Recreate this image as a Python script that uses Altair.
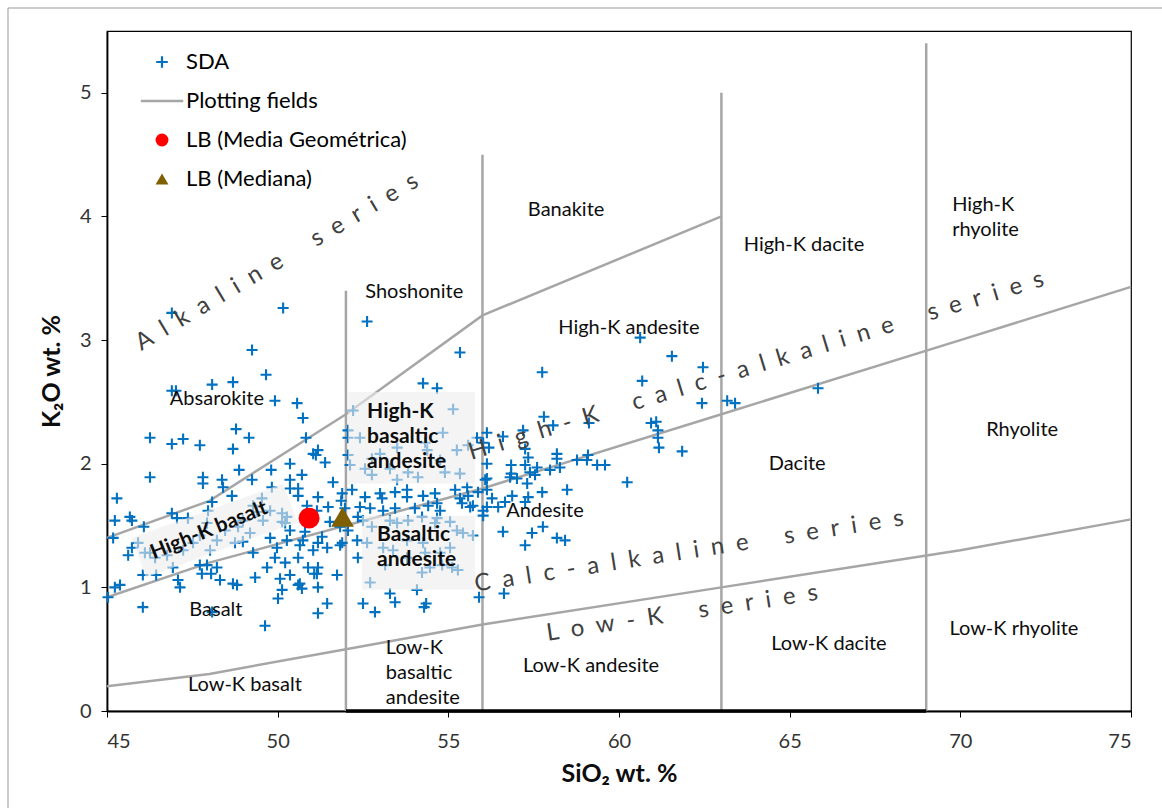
import altair as alt
import pandas as pd

# ---------------------------------------------------------------------------
# SDA samples: (SiO2 wt.%, K2O wt.%)
# ---------------------------------------------------------------------------
sda_basalt = [
    (46.90, 3.22), (50.16, 3.26), (49.25, 2.92), (49.66, 2.72), (48.08, 2.64), (48.69, 2.66),
    (46.90, 2.59), (47.02, 2.59), (49.92, 2.51), (50.57, 2.49), (50.74, 2.37), (48.78, 2.28),
    (46.26, 2.21), (46.90, 2.16), (47.23, 2.20), (47.72, 2.15), (49.16, 2.21), (48.69, 2.12),
    (50.83, 2.21), (51.18, 2.11), (51.12, 2.07), (52.06, 2.27), (52.06, 2.21), (52.21, 2.43),
    (50.36, 2.00), (49.81, 1.95), (48.87, 1.95), (46.26, 1.89), (47.81, 1.89), (48.37, 1.87),
    (47.81, 1.84), (48.40, 1.81), (49.25, 1.87), (50.36, 1.87), (50.71, 1.91), (51.39, 2.01),
    (51.04, 2.08), (50.36, 1.80), (50.60, 1.80), (50.60, 1.74), (48.66, 1.74), (48.08, 1.69),
    (45.29, 1.72), (46.90, 1.60), (45.67, 1.57), (45.23, 1.54), (46.08, 1.49), (51.18, 1.73),
    (51.62, 1.85), (51.89, 1.76), (51.48, 1.65), (51.86, 1.70), (50.80, 1.45), (50.36, 1.46),
    (50.27, 1.38), (51.89, 1.36), (51.30, 1.41), (51.18, 1.36), (49.28, 1.66), (49.78, 1.62),
    (50.86, 1.66), (51.15, 1.62), (45.73, 1.54), (47.05, 1.56), (48.98, 1.54), (50.27, 1.57),
    (50.13, 1.53), (51.83, 1.49), (51.53, 1.53), (50.74, 1.38), (49.78, 1.40), (48.98, 1.37),
    (49.98, 1.32), (50.65, 1.34), (51.04, 1.30), (51.45, 1.32), (51.83, 1.34), (45.18, 1.40),
    (45.73, 1.32), (45.62, 1.26), (46.11, 1.28), (47.72, 1.18), (47.93, 1.18), (48.22, 1.16),
    (49.28, 1.28), (49.92, 1.24), (50.22, 1.20), (50.60, 1.24), (50.89, 1.16), (51.18, 1.16),
    (49.69, 1.16), (49.34, 1.08), (48.69, 1.03), (48.31, 1.06), (48.81, 1.02), (50.07, 1.07),
    (50.36, 1.10), (50.65, 1.03), (51.15, 1.11), (51.74, 1.10), (51.18, 1.00), (46.05, 1.10),
    (47.08, 1.06), (47.14, 1.00), (45.38, 1.02), (45.23, 1.00), (45.03, 0.92), (46.05, 0.84),
    (48.08, 0.80), (50.13, 0.98), (51.45, 0.87), (51.18, 0.79), (49.63, 0.69), (47.78, 1.11),
    (48.05, 1.11), (50.01, 0.91), (50.60, 1.02), (50.71, 0.99), (51.07, 1.11), (46.44, 1.10),
    (46.93, 1.16), (47.37, 1.56), (47.96, 1.62), (47.93, 1.52), (48.46, 1.46), (49.57, 1.54),
    (49.83, 1.81), (49.54, 1.72), (48.75, 1.36), (47.72, 1.42), (47.23, 1.30), (46.76, 1.26),
    (46.26, 1.28), (45.91, 1.36), (47.52, 1.36), (48.22, 1.38), (49.19, 1.44), (50.13, 1.60),
    (50.22, 1.52), (49.39, 1.61), (48.84, 1.49), (48.02, 1.30), (46.41, 1.24),
]

sda_basaltic_andesite = [
    (52.62, 3.15), (55.34, 2.90), (54.26, 2.65), (54.67, 2.61), (55.14, 2.44), (54.84, 2.25),
    (56.13, 2.25), (56.02, 2.17), (55.84, 2.21), (52.06, 2.07), (52.12, 1.99), (52.56, 1.96),
    (54.38, 2.11), (53.00, 2.08), (53.50, 2.13), (52.76, 2.04), (53.82, 1.93), (53.29, 1.96),
    (54.11, 1.89), (54.76, 2.03), (55.25, 2.11), (55.58, 2.15), (55.34, 1.92), (54.32, 2.17),
    (52.41, 2.21), (52.76, 1.91), (54.90, 1.93), (53.50, 1.87), (52.18, 1.79), (52.56, 1.73),
    (53.00, 1.76), (53.06, 1.72), (53.44, 1.77), (53.79, 1.73), (53.79, 1.79), (54.26, 1.74),
    (54.61, 1.76), (54.67, 1.68), (55.20, 1.79), (55.55, 1.81), (55.58, 1.74), (56.08, 1.87),
    (56.13, 1.79), (56.28, 1.72), (55.72, 1.66), (55.40, 1.68), (56.13, 1.65), (56.02, 1.58),
    (51.97, 1.64), (52.41, 1.65), (52.71, 1.64), (53.09, 1.62), (53.44, 1.64), (54.02, 1.64),
    (54.41, 1.66), (54.76, 1.62), (52.06, 1.46), (52.35, 1.57), (52.33, 1.38), (52.35, 1.24),
    (52.50, 1.54), (52.76, 1.49), (53.29, 1.54), (53.50, 1.52), (53.82, 1.54), (54.23, 1.57),
    (54.67, 1.56), (54.61, 1.52), (55.05, 1.53), (55.25, 1.46), (55.43, 1.44), (55.72, 1.42),
    (52.62, 1.36), (53.09, 1.32), (53.38, 1.30), (53.79, 1.38), (54.26, 1.36), (54.32, 1.28),
    (54.76, 1.28), (55.05, 1.32), (54.46, 1.16), (52.71, 1.04), (54.82, 1.18), (55.28, 1.14),
    (53.79, 1.24), (53.15, 1.18), (54.23, 1.12), (53.29, 0.95), (54.08, 0.98), (52.50, 0.87),
    (52.85, 0.80), (53.44, 0.88), (54.29, 0.84), (54.35, 0.87), (55.11, 1.16), (55.90, 0.92),
    (56.63, 0.95),
]

sda_andesite = [
    (60.62, 3.02), (61.55, 2.87), (57.75, 2.74), (62.46, 2.78), (60.68, 2.67), (62.43, 2.49),
    (63.17, 2.51), (63.40, 2.49), (57.80, 2.38), (58.07, 2.31), (59.12, 2.33), (60.94, 2.33),
    (61.09, 2.34), (61.14, 2.27), (61.14, 2.21), (61.17, 2.13), (61.85, 2.10), (65.83, 2.61),
    (56.60, 2.22), (57.19, 2.27), (56.19, 2.13), (57.25, 2.12), (57.34, 2.05), (58.18, 2.08),
    (58.18, 2.04), (58.77, 2.03), (59.09, 2.07), (59.06, 2.03), (59.36, 1.99), (59.59, 1.99),
    (58.27, 1.97), (57.98, 1.95), (57.60, 1.97), (57.39, 1.93), (57.25, 1.99), (56.84, 1.99),
    (56.84, 1.92), (56.13, 2.00), (56.81, 1.89), (57.01, 1.88), (57.31, 1.84), (57.54, 1.91),
    (56.13, 1.88), (55.87, 1.77), (55.34, 1.72), (55.64, 1.65), (56.02, 1.62), (56.46, 1.65),
    (56.66, 1.69), (56.87, 1.74), (57.25, 1.69), (57.34, 1.73), (57.75, 1.77), (58.48, 1.79),
    (60.24, 1.85), (56.60, 1.45), (57.45, 1.44), (57.77, 1.49), (57.25, 1.34), (58.18, 1.40),
    (58.42, 1.38),
]

# LB central values
lb_names = ["LB (Media Geométrica)", "LB (Mediana)"]
lb_sio2 = [50.92, 51.90]
lb_k2o = [1.56, 1.57]

# ---------------------------------------------------------------------------
# Classification field boundaries (K2O vs SiO2)
# ---------------------------------------------------------------------------
boundary_lowk_sio2 = [45, 48, 52, 56, 63, 70, 75]
boundary_lowk_k2o = [0.20, 0.30, 0.50, 0.70, 1.00, 1.30, 1.55]
boundary_highk_sio2 = [45, 48, 52, 56, 63, 70, 75]
boundary_highk_k2o = [0.92, 1.20, 1.50, 1.80, 2.40, 3.00, 3.43]
boundary_shosh_sio2 = [45, 48, 52, 56, 63]
boundary_shosh_k2o = [1.40, 1.70, 2.40, 3.20, 4.00]
divider_sio2 = [52, 56, 63, 69]
divider_top_k2o = [3.40, 4.50, 5.00, 5.40]
base_segment_sio2 = [52, 69]

# Field names (single line, centred)
field_names = ["Banakite", "High-K dacite", "Shoshonite", "High-K andesite", "Absarokite",
               "Andesite", "Dacite", "Rhyolite", "Basalt", "Low-K basalt", "Low-K andesite",
               "Low-K dacite", "Low-K rhyolite"]
field_sio2 = [58.45, 65.42, 54.00, 60.29, 48.22, 57.83, 65.22, 71.81, 48.19, 49.04, 59.18,
              66.15, 71.57]
field_k2o = [4.05, 3.77, 3.39, 3.10, 2.52, 1.62, 2.00, 2.27, 0.82, 0.21, 0.36, 0.54, 0.66]

# Multi-line field names, left aligned; y is the first line
left_field_names = ["High-K\nrhyolite", "Low-K\nbasaltic\nandesite"]
left_field_sio2 = [69.76, 53.17]
left_field_k2o = [4.09, 0.51]

bold_field_names = ["High-K\nbasaltic\nandesite", "Basaltic\nandesite"]
bold_field_sio2 = [52.62, 52.91]
bold_field_k2o = [2.42, 1.42]

# Series names written along the boundaries
series_names = ["Alkaline series", "High-K calc-alkaline series",
                "Calc-alkaline series", "Low-K series"]
series_sio2 = [49.98, 64.02, 62.05, 61.85]
series_k2o = [3.63, 2.79, 1.29, 0.79]
series_angle = [329.3, 343.1, 351.2, 351.4]

# Highlight boxes behind the bold labels
box_sio2_lo = [52.06, 52.47]
box_sio2_hi = [55.78, 55.78]
box_k2o_lo = [1.84, 0.98]
box_k2o_hi = [2.58, 1.58]
hkb_box_sio2 = [45.73, 50.16, 50.57, 46.14]
hkb_box_k2o = [1.40, 1.84, 1.53, 1.08]

# ---------------------------------------------------------------------------
SERIES = ["SDA", "Plotting fields", "LB (Media Geométrica)", "LB (Mediana)"]
SERIES_COLORS = ["#0070C0", "#A6A6A6", "#FF0000", "#7F6000"]
PLUS = "M-0.9,-0.17H0.9V0.17H-0.9Z M-0.17,-0.9H0.17V0.9H-0.17Z"
DASH = "M-3.3,-0.2H3.3V0.2H-3.3Z"
SERIES_SHAPES = [PLUS, DASH, "circle", "triangle-up"]
FONT = "Lato"

X_SCALE = alt.Scale(domain=[45, 75], nice=False, zero=False)
Y_SCALE = alt.Scale(domain=[0, 5.5], nice=False, zero=False)
X_AXIS = alt.Axis(values=[45, 50, 55, 60, 65, 70, 75], title="SiO₂ wt. %")
Y_AXIS = alt.Axis(values=[0, 1, 2, 3, 4, 5], title="K₂O wt. %")


def xe(field="x"):
    return alt.X(f"{field}:Q", scale=X_SCALE, axis=X_AXIS)


def ye(field="y"):
    return alt.Y(f"{field}:Q", scale=Y_SCALE, axis=Y_AXIS)


LEGEND = alt.Legend(title=None, orient="none", legendX=44, legendY=20, padding=0,
                    labelFont=FONT, labelFontSize=22, labelColor="#000000",
                    symbolSize=165, symbolStrokeWidth=0, rowPadding=17,
                    labelOffset=13, labelLimit=400)
color_enc = alt.Color("series:N", scale=alt.Scale(domain=SERIES, range=SERIES_COLORS),
                      legend=LEGEND)
shape_enc = alt.Shape("series:N", scale=alt.Scale(domain=SERIES, range=SERIES_SHAPES),
                      legend=LEGEND)


def quad_band(xs, ys):
    """Top/bottom outline of a convex quadrilateral, sampled at its corner x's."""
    pts = list(zip(xs, ys))
    edges = [(pts[i], pts[(i + 1) % len(pts)]) for i in range(len(pts))]
    rows = []
    for x in sorted(xs):
        hits = []
        for (x0, y0), (x1, y1) in edges:
            if x1 != x0 and min(x0, x1) - 1e-9 <= x <= max(x0, x1) + 1e-9:
                hits.append(y0 + (y1 - y0) * (x - x0) / (x1 - x0))
        rows.append({"x": x, "y": min(hits), "y2": max(hits)})
    return pd.DataFrame(rows)


# ---- data frames ----------------------------------------------------------
sda = sda_basalt + sda_basaltic_andesite + sda_andesite
sda_df = pd.DataFrame({"x": [p[0] for p in sda], "y": [p[1] for p in sda], "series": "SDA"})
lb_df = pd.DataFrame({"x": lb_sio2, "y": lb_k2o, "series": lb_names})

rows = []
for name, xs, ys in [("lowk", boundary_lowk_sio2, boundary_lowk_k2o),
                     ("highk", boundary_highk_sio2, boundary_highk_k2o),
                     ("shosh", boundary_shosh_sio2, boundary_shosh_k2o)]:
    for i, (xv, yv) in enumerate(zip(xs, ys)):
        rows.append({"line": name, "i": i, "x": xv, "y": yv})
for xv, top in zip(divider_sio2, divider_top_k2o):
    rows.append({"line": f"v{xv}", "i": 0, "x": xv, "y": 0.0})
    rows.append({"line": f"v{xv}", "i": 1, "x": xv, "y": top})
fields_df = pd.DataFrame(rows)
base_df = pd.DataFrame({"x": base_segment_sio2, "y": [0.0, 0.0]})

boxes_df = pd.DataFrame({"x": box_sio2_lo, "x2": box_sio2_hi, "y": box_k2o_lo, "y2": box_k2o_hi})
hkb_df = quad_band(hkb_box_sio2, hkb_box_k2o)

fields_lbl = pd.DataFrame({"x": field_sio2, "y": field_k2o, "t": field_names})
left_lbl = pd.DataFrame({"x": left_field_sio2, "y": left_field_k2o, "t": left_field_names})
bold_lbl = pd.DataFrame({"x": bold_field_sio2, "y": bold_field_k2o, "t": bold_field_names})
hkb_lbl = pd.DataFrame({"x": [47.99], "y": [1.46], "t": ["High-K basalt"]})
spaced = ["\u2002\u2002\u2002".join("\u2002".join(w) for w in s.split(" ")) for s in series_names]
series_lbl = pd.DataFrame({"x": series_sio2, "y": series_k2o, "t": spaced, "a": series_angle})

# ---- layers ---------------------------------------------------------------
lines = alt.Chart(fields_df).mark_line(color="#A6A6A6", strokeWidth=2.5).encode(
    x=xe(), y=ye(), detail="line:N", order="i:Q")
base = alt.Chart(base_df).mark_line(color="#000000", strokeWidth=3.5).encode(x=xe(), y=ye())

pts = alt.Chart(sda_df).mark_point(filled=True, size=150, opacity=1).encode(
    x=xe(), y=ye(), color=color_enc, shape=shape_enc)

boxes = alt.Chart(boxes_df).mark_rect(color="#ececec", opacity=0.6).encode(
    x=xe(), x2="x2:Q", y=ye(), y2="y2:Q")
hkb_box = alt.Chart(hkb_df).mark_area(color="#ececec", opacity=0.6).encode(
    x=xe(), y=ye(), y2="y2:Q")

lb_circle = alt.Chart(lb_df.iloc[[0]]).mark_point(filled=True, size=440, opacity=1).encode(
    x=xe(), y=ye(), color=color_enc, shape=shape_enc)
lb_tri = alt.Chart(lb_df.iloc[[1]]).mark_point(filled=True, size=520, opacity=1).encode(
    x=xe(), y=ye(), color=color_enc, shape=shape_enc)

t_fields = alt.Chart(fields_lbl).mark_text(font=FONT, fontSize=20, color="#0d0d0d").encode(
    x=xe(), y=ye(), text="t:N")
t_left = alt.Chart(left_lbl).mark_text(font=FONT, fontSize=20, color="#0d0d0d", align="left",
                                       lineBreak="\n", lineHeight=25).encode(
    x=xe(), y=ye(), text="t:N")
t_bold = alt.Chart(bold_lbl).mark_text(font=FONT, fontSize=21, fontWeight="bold",
                                       color="#0d0d0d", align="left",
                                       lineBreak="\n", lineHeight=25).encode(
    x=xe(), y=ye(), text="t:N")
t_hkb = alt.Chart(hkb_lbl).mark_text(font=FONT, fontSize=20.5, fontWeight="bold",
                                     color="#0d0d0d", angle=338).encode(
    x=xe(), y=ye(), text="t:N")
t_series = alt.Chart(series_lbl).mark_text(font=FONT, fontSize=24, color="#404040").encode(
    x=xe(), y=ye(), text="t:N", angle=alt.Angle("a:Q", scale=None))

frame_df = pd.DataFrame({"k": [0]})
frame_top = alt.Chart(frame_df).mark_rule(color="#999999", strokeWidth=1).encode(
    x=alt.value(-99), x2=alt.value(1200), y=alt.value(-23), y2=alt.value(-23))
frame_left = alt.Chart(frame_df).mark_rule(color="#999999", strokeWidth=1).encode(
    x=alt.value(-99), x2=alt.value(-99), y=alt.value(-23), y2=alt.value(900))

chart = alt.layer(
    lines, base, pts, boxes, hkb_box, lb_circle, lb_tri,
    t_fields, t_left, t_bold, t_hkb, t_series, frame_top, frame_left,
).properties(
    width=1024, height=680,
    autosize=alt.AutoSizeParams(type="none"),
    padding={"left": 107, "top": 31, "right": 31, "bottom": 97},
    background="white",
).configure_view(
    stroke="#000000", strokeWidth=1.2,
).configure_axis(
    grid=False, domainColor="#000000", domainWidth=1.8, tickColor="#000000",
    tickSize=6, tickWidth=1, labelFont=FONT, labelFontSize=20, labelColor="#333333",
    titleFont=FONT, titleFontSize=25, titleFontWeight="bold", titleColor="#0d0d0d",
).configure_axisX(
    labelPadding=14, titlePadding=10,
).configure_axisY(
    labelPadding=10, titlePadding=15,
)

chart.save("out.html", embed_options={"renderer": "svg", "actions": False})
